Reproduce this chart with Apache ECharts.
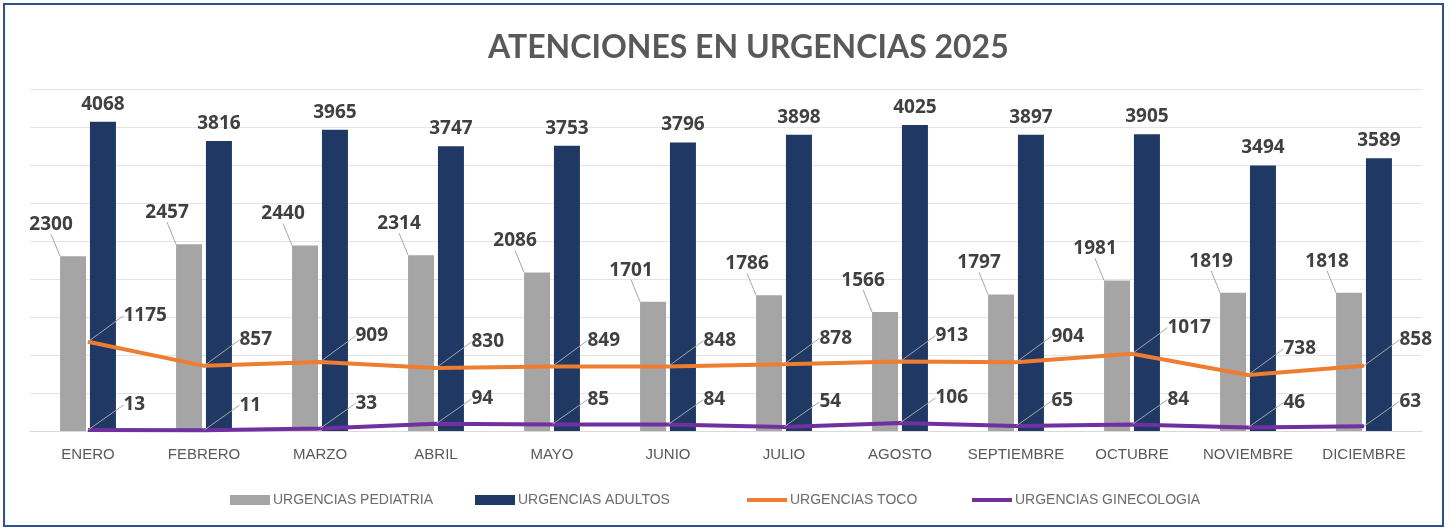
<!DOCTYPE html>
<html>
<head>
<meta charset="utf-8">
<script src="https://cdn.jsdelivr.net/npm/echarts@6/dist/echarts.min.js"></script>
<style>
  html, body { margin: 0; padding: 0; background: #fff; }
  #chart { width: 1450px; height: 529px; }
</style>
</head>
<body>
<div id="chart"></div>
<script>
const months = ['ENERO', 'FEBRERO', 'MARZO', 'ABRIL', 'MAYO', 'JUNIO', 'JULIO', 'AGOSTO', 'SEPTIEMBRE', 'OCTUBRE', 'NOVIEMBRE', 'DICIEMBRE']
const pediatria = [2300, 2457, 2440, 2314, 2086, 1701, 1786, 1566, 1797, 1981, 1819, 1818]
const adultos = [4068, 3816, 3965, 3747, 3753, 3796, 3898, 4025, 3897, 3905, 3494, 3589]
const toco = [1175, 857, 909, 830, 849, 848, 878, 913, 904, 1017, 738, 858]
const ginecologia = [13, 11, 33, 94, 85, 84, 54, 106, 65, 84, 46, 63]

const chart = echarts.init(document.getElementById('chart'))

const labelFont = { fontFamily: '"Open Sans", sans-serif', fontWeight: 'bold', fontSize: 19, color: '#404040' }
const leader = { show: true, lineStyle: { color: '#a6a6a6', width: 1 } }
const lineIcon = 'path://M0,0 L40,0 L40,4 L0,4 Z'

// one legend box per entry so the spacing follows the original
const legendItem = (name, left, icon) => ({
  left: left,
  bottom: 22,
  itemWidth: 40,
  itemHeight: 10,
  padding: 0,
  textStyle: { fontFamily: '"Liberation Sans", sans-serif', fontSize: 14, color: '#6b6b6b', padding: [0, 0, 0, -2] },
  data: [{ name: name, icon: icon }]
})

const option = {
  animation: false,
  title: {
    text: 'ATENCIONES EN URGENCIAS 2025',
    left: 483,
    top: 27,
    textStyle: { fontFamily: 'Lato, sans-serif', fontWeight: 'bold', fontSize: 32, color: '#595959' }
  },
  graphic: [{
    type: 'rect',
    shape: { x: 4, y: 4, width: 1439, height: 522 },
    style: { fill: 'none', stroke: '#2f4f8f', lineWidth: 2 },
    silent: true
  }],
  legend: [
    legendItem('URGENCIAS PEDIATRIA', 230, 'rect'),
    legendItem('URGENCIAS ADULTOS', 475, 'rect'),
    legendItem('URGENCIAS TOCO', 747, lineIcon),
    legendItem('URGENCIAS GINECOLOGIA', 972, lineIcon)
  ],
  grid: { left: 30, right: 28, top: 89, bottom: 98 },
  xAxis: {
    type: 'category',
    data: months,
    axisTick: { show: false },
    axisLine: { lineStyle: { color: '#d9d9d9' } },
    axisLabel: { interval: 0, fontFamily: '"Liberation Sans", sans-serif', fontSize: 15, color: '#595959', margin: 16 }
  },
  yAxis: {
    type: 'value',
    min: 0,
    max: 4500,
    interval: 500,
    axisLabel: { show: false },
    axisLine: { show: false },
    splitLine: { lineStyle: { color: '#e4e4e4' } }
  },
  series: [
    {
      name: 'URGENCIAS PEDIATRIA',
      type: 'bar',
      data: pediatria,
      barWidth: 26,
      barGap: '15%',
      itemStyle: { color: '#a5a5a5' },
      label: { show: true, position: 'top', distance: 5, ...labelFont },
      labelLine: leader,
      labelLayout: { dx: -22, dy: -17 }
    },
    {
      name: 'URGENCIAS ADULTOS',
      type: 'bar',
      data: adultos,
      barWidth: 26,
      itemStyle: { color: '#203864' },
      label: { show: true, position: 'top', distance: 8, ...labelFont }
    },
    {
      name: 'URGENCIAS TOCO',
      type: 'line',
      data: toco,
      symbol: 'circle',
      symbolSize: 1,
      lineStyle: { color: '#ed7d31', width: 4 },
      itemStyle: { color: '#ed7d31' },
      label: { show: true, position: 'right', distance: 5, ...labelFont },
      labelLine: leader,
      labelLayout: { dx: 30, dy: -26 },
      z: 3
    },
    {
      name: 'URGENCIAS GINECOLOGIA',
      type: 'line',
      data: ginecologia,
      symbol: 'circle',
      symbolSize: 1,
      lineStyle: { color: '#7030a0', width: 4 },
      itemStyle: { color: '#7030a0' },
      label: { show: true, position: 'right', distance: 5, ...labelFont },
      labelLine: leader,
      labelLayout: { dx: 30, dy: -25 },
      z: 3
    }
  ]
}

chart.setOption(option)
window.addEventListener('resize', () => chart.resize())
</script>
</body>
</html>
